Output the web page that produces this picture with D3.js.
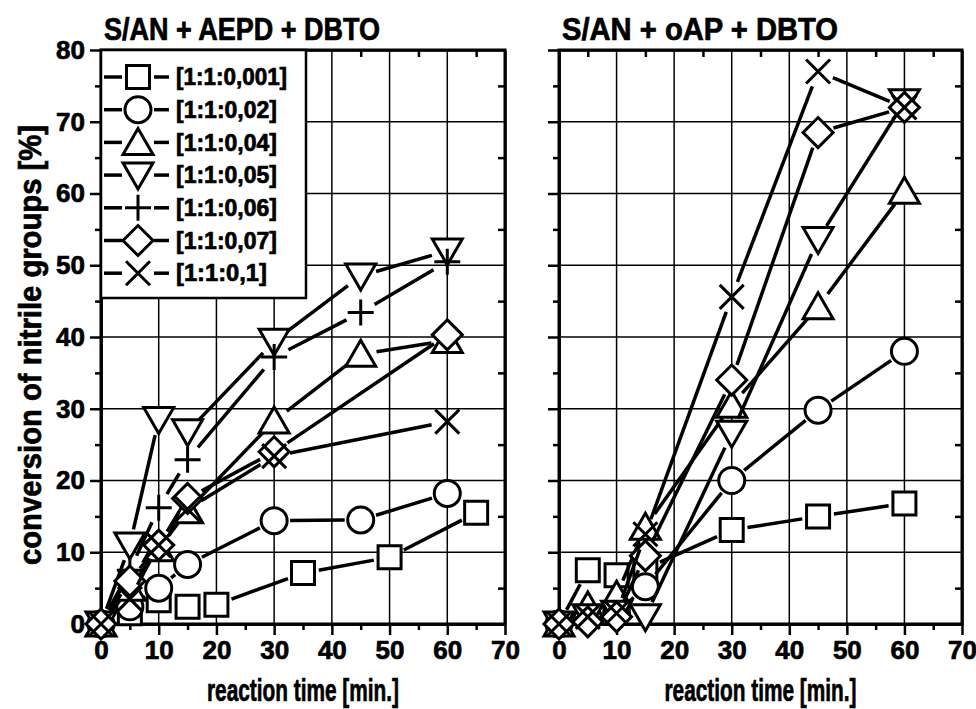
<!DOCTYPE html>
<html>
<head>
<meta charset="utf-8">
<script src="https://cdn.jsdelivr.net/npm/d3@7"></script>
<style>
  body { margin: 0; background: #fff; }
  svg text { font-family: "Liberation Sans", Arial, sans-serif; font-weight: bold; fill: #000; stroke: #000; stroke-width: 0.7px; }
</style>
</head>
<body>
<div id="chart"></div>
<script>
// ---- data ----
const legendLabels = ["[1:1:0,001]", "[1:1:0,02]", "[1:1:0,04]", "[1:1:0,05]", "[1:1:0,06]", "[1:1:0,07]", "[1:1:0,1]"];
const xTicks = [0, 10, 20, 30, 40, 50, 60, 70];
const yTicks = [0, 10, 20, 30, 40, 50, 60, 70, 80];
const xMinor = [5, 15, 25, 35, 45, 55, 65];
const yMinor = [5, 15, 25, 35, 45, 55, 65, 75];

// S/AN + AEPD + DBTO
const aepdTimeA = [0, 5, 10, 15, 20, 35, 50, 65];
const aepdTimeB = [0, 5, 10, 15, 30, 45, 60];
const aepdTimeC = [0, 5, 10, 15, 30, 60];
const aepd001 = [0, 1.5, 3.3, 2.4, 2.7, 7.1, 9.3, 15.5];
const aepd002 = [0, 2.4, 5.0, 8.3, 14.4, 14.5, 18.2];
const aepd004 = [0, 5.0, 10.5, 15.8, 28.3, 37.6, 39.5];
const aepd005 = [0, 11.0, 28.5, 26.8, 39.4, 48.5, 52.0];
const aepd006 = [0, 7.5, 16.2, 22.9, 37.2, 43.4, 50.5];
const aepd007 = [0, 6.0, 11.0, 17.5, 24.0, 40.3];
const aepd01 = [0, 3.5, 11.0, 16.0, 23.4, 28.2];

// S/AN + oAP + DBTO
const oapTime = [0, 5, 10, 15, 30, 45, 60];
const oap001 = [0, 7.5, 6.8, 7.7, 13.1, 15.0, 16.8];
const oap002 = [0, 1.0, 1.5, 5.2, 20.0, 29.8, 38.0];
const oap004 = [0, 2.5, 4.0, 13.5, 30.5, 44.2, 60.3];
const oap005 = [0, 1.0, 1.5, 1.0, 26.6, 53.6, 72.8];
const oap007 = [0, 0.3, 1.0, 9.5, 34.0, 68.5, 72.0];
const oap01 = [0, 1.0, 1.5, 12.5, 45.6, 77.0, 72.0];

const symbolNames = ["square", "circle", "up", "down", "plus", "diamond", "cross"];

const W = 976, H = 709;
const svg = d3.select("#chart").append("svg").attr("width", W).attr("height", H);

// marker outlines, centred at 0,0
function markerPath(name) {
  switch (name) {
    case "square": return "M-11.5,-11.5H11.5V11.5H-11.5Z";
    case "circle": return "M13,0A13,13 0 1,1 -13,0A13,13 0 1,1 13,0Z";
    case "up": return "M0,-14L15,12H-15Z";
    case "down": return "M0,14L15,-12H-15Z";
    case "diamond": return "M0,-15L15,0L0,15L-15,0Z";
    case "plus": return "M-13,0H13M0,-13V13";
    case "cross": return "M-12,-12L12,12M12,-12L-12,12";
  }
}

function drawMarker(g, name, px, py) {
  g.append("path")
    .attr("d", markerPath(name))
    .attr("transform", "translate(" + px + "," + py + ")")
    .attr("fill", (name == "plus" || name == "cross") ? "none" : "#fff")
    .attr("stroke", "#000")
    .attr("stroke-width", 3);
}

function seg(g, x1, y1, x2, y2) {
  g.append("line")
    .attr("x1", x1).attr("y1", y1).attr("x2", x2).attr("y2", y2)
    .attr("stroke", "#000").attr("stroke-width", 3.5);
}

// line with a gap around each symbol, as the original plotting program does
function gappedLine(g, pts, gap) {
  for (let i = 1; i < pts.length; i++) {
    const a = pts[i - 1], b = pts[i];
    const dx = b[0] - a[0], dy = b[1] - a[1];
    const d = Math.sqrt(dx * dx + dy * dy);
    if (d <= 2 * gap + 2) continue;
    const ux = dx / d, uy = dy / d;
    seg(g, a[0] + ux * gap, a[1] + uy * gap, b[0] - ux * gap, b[1] - uy * gap);
  }
}

const panels = [
  {
    title: "S/AN + AEPD + DBTO", left: 101, right: 505, labels: true, legend: true,
    series: [
      [aepdTimeA, aepd001], [aepdTimeB, aepd002], [aepdTimeB, aepd004], [aepdTimeB, aepd005],
      [aepdTimeB, aepd006], [aepdTimeC, aepd007], [aepdTimeC, aepd01]
    ]
  },
  {
    title: "S/AN + oAP + DBTO", left: 559, right: 962, labels: false, legend: false,
    series: [
      [oapTime, oap001], [oapTime, oap002], [oapTime, oap004], [oapTime, oap005],
      null, [oapTime, oap007], [oapTime, oap01]
    ]
  }
];

const TOP = 50, BOTTOM = 624;

panels.forEach(function (p) {
  const x = d3.scaleLinear().domain([0, 70]).range([p.left, p.right]);
  const y = d3.scaleLinear().domain([0, 80]).range([BOTTOM, TOP]);
  const g = svg.append("g");

  // grid
  g.selectAll(".vgrid").data(xTicks.slice(1, -1)).join("line")
    .attr("x1", d => x(d)).attr("x2", d => x(d))
    .attr("y1", y(0)).attr("y2", y(80))
    .attr("stroke", "#000").attr("stroke-width", 1.5);
  g.selectAll(".hgrid").data(yTicks.slice(1, -1)).join("line")
    .attr("x1", x(0)).attr("x2", x(70))
    .attr("y1", d => y(d)).attr("y2", d => y(d))
    .attr("stroke", "#000").attr("stroke-width", 1.5);

  // axes
  g.append("g").attr("transform", "translate(0," + y(0) + ")")
    .call(d3.axisBottom(x).tickValues(xTicks).tickSize(11).tickSizeOuter(0).tickPadding(6).tickFormat(d3.format("d")));
  g.append("g").attr("transform", "translate(0," + y(0) + ")")
    .call(d3.axisBottom(x).tickValues(xMinor).tickSize(6).tickSizeOuter(0).tickFormat(""));
  g.append("g").attr("transform", "translate(" + x(0) + ",0)")
    .call(d3.axisLeft(y).tickValues(yTicks).tickSize(11).tickSizeOuter(0).tickPadding(5)
      .tickFormat(p.labels ? d3.format("d") : ""));
  g.append("g").attr("transform", "translate(" + x(0) + ",0)")
    .call(d3.axisLeft(y).tickValues(yMinor).tickSize(6).tickSizeOuter(0).tickFormat(""));
  g.append("g").attr("transform", "translate(" + x(70) + ",0)")
    .call(d3.axisLeft(y).tickValues(yMinor).tickSize(7).tickSizeOuter(0).tickFormat(""));
  g.append("g").attr("transform", "translate(0," + y(80) + ")")
    .call(d3.axisBottom(x).tickValues(xMinor).tickSize(7).tickSizeOuter(0).tickFormat(""));
  g.selectAll(".tick line").attr("stroke-width", 2.5);
  g.selectAll(".domain").attr("stroke-width", 2.5);
  g.selectAll(".tick text").attr("font-size", 26)
    .style("font-family", '"Liberation Sans", Arial, sans-serif').style("font-weight", "bold");

  g.append("rect")
    .attr("x", x(0)).attr("y", y(80))
    .attr("width", x(70) - x(0)).attr("height", y(0) - y(80))
    .attr("fill", "none").attr("stroke", "#000").attr("stroke-width", 3);

  // legend
  if (p.legend) {
    const lg = g.append("g");
    lg.append("rect").attr("x", x(0)).attr("y", y(80)).attr("width", 205).attr("height", 248)
      .attr("fill", "#fff").attr("stroke", "#000").attr("stroke-width", 2.5);
    legendLabels.forEach(function (lab, i) {
      const ly = y(80) + 27 + i * 32.7;
      const sx = x(0) + 37;
      seg(lg, x(0) + 3, ly, sx - 16, ly);
      seg(lg, sx + 16, ly, sx + 31, ly);
      drawMarker(lg, symbolNames[i], sx, ly);
      lg.append("text").attr("x", x(0) + 75).attr("y", ly).attr("dy", "0.36em")
        .attr("font-size", 23).attr("textLength", lab.length * 10.1).attr("lengthAdjust", "spacingAndGlyphs")
        .text(lab);
    });
  }

  // series
  p.series.forEach(function (s, i) {
    if (!s) return;
    const pts = s[0].map((t, j) => [x(t), y(s[1][j])]);
    const sg = g.append("g");
    gappedLine(sg, pts, 16);
    pts.forEach(pt => drawMarker(sg, symbolNames[i], pt[0], pt[1]));
  });

  // titles
  svg.append("text").attr("x", p.left + 3).attr("y", 40)
    .attr("font-size", 31).attr("textLength", 276).attr("lengthAdjust", "spacingAndGlyphs")
    .text(p.title);
  svg.append("text").attr("x", (p.left + p.right) / 2).attr("y", 701)
    .attr("text-anchor", "middle").attr("font-size", 31)
    .attr("textLength", 192).attr("lengthAdjust", "spacingAndGlyphs")
    .text("reaction time [min.]");
});

svg.append("text")
  .attr("transform", "translate(41,345) rotate(-90)")
  .attr("text-anchor", "middle").attr("font-size", 31)
  .attr("textLength", 440).attr("lengthAdjust", "spacingAndGlyphs")
  .text("conversion of nitrile groups [%]");
</script>
</body>
</html>
